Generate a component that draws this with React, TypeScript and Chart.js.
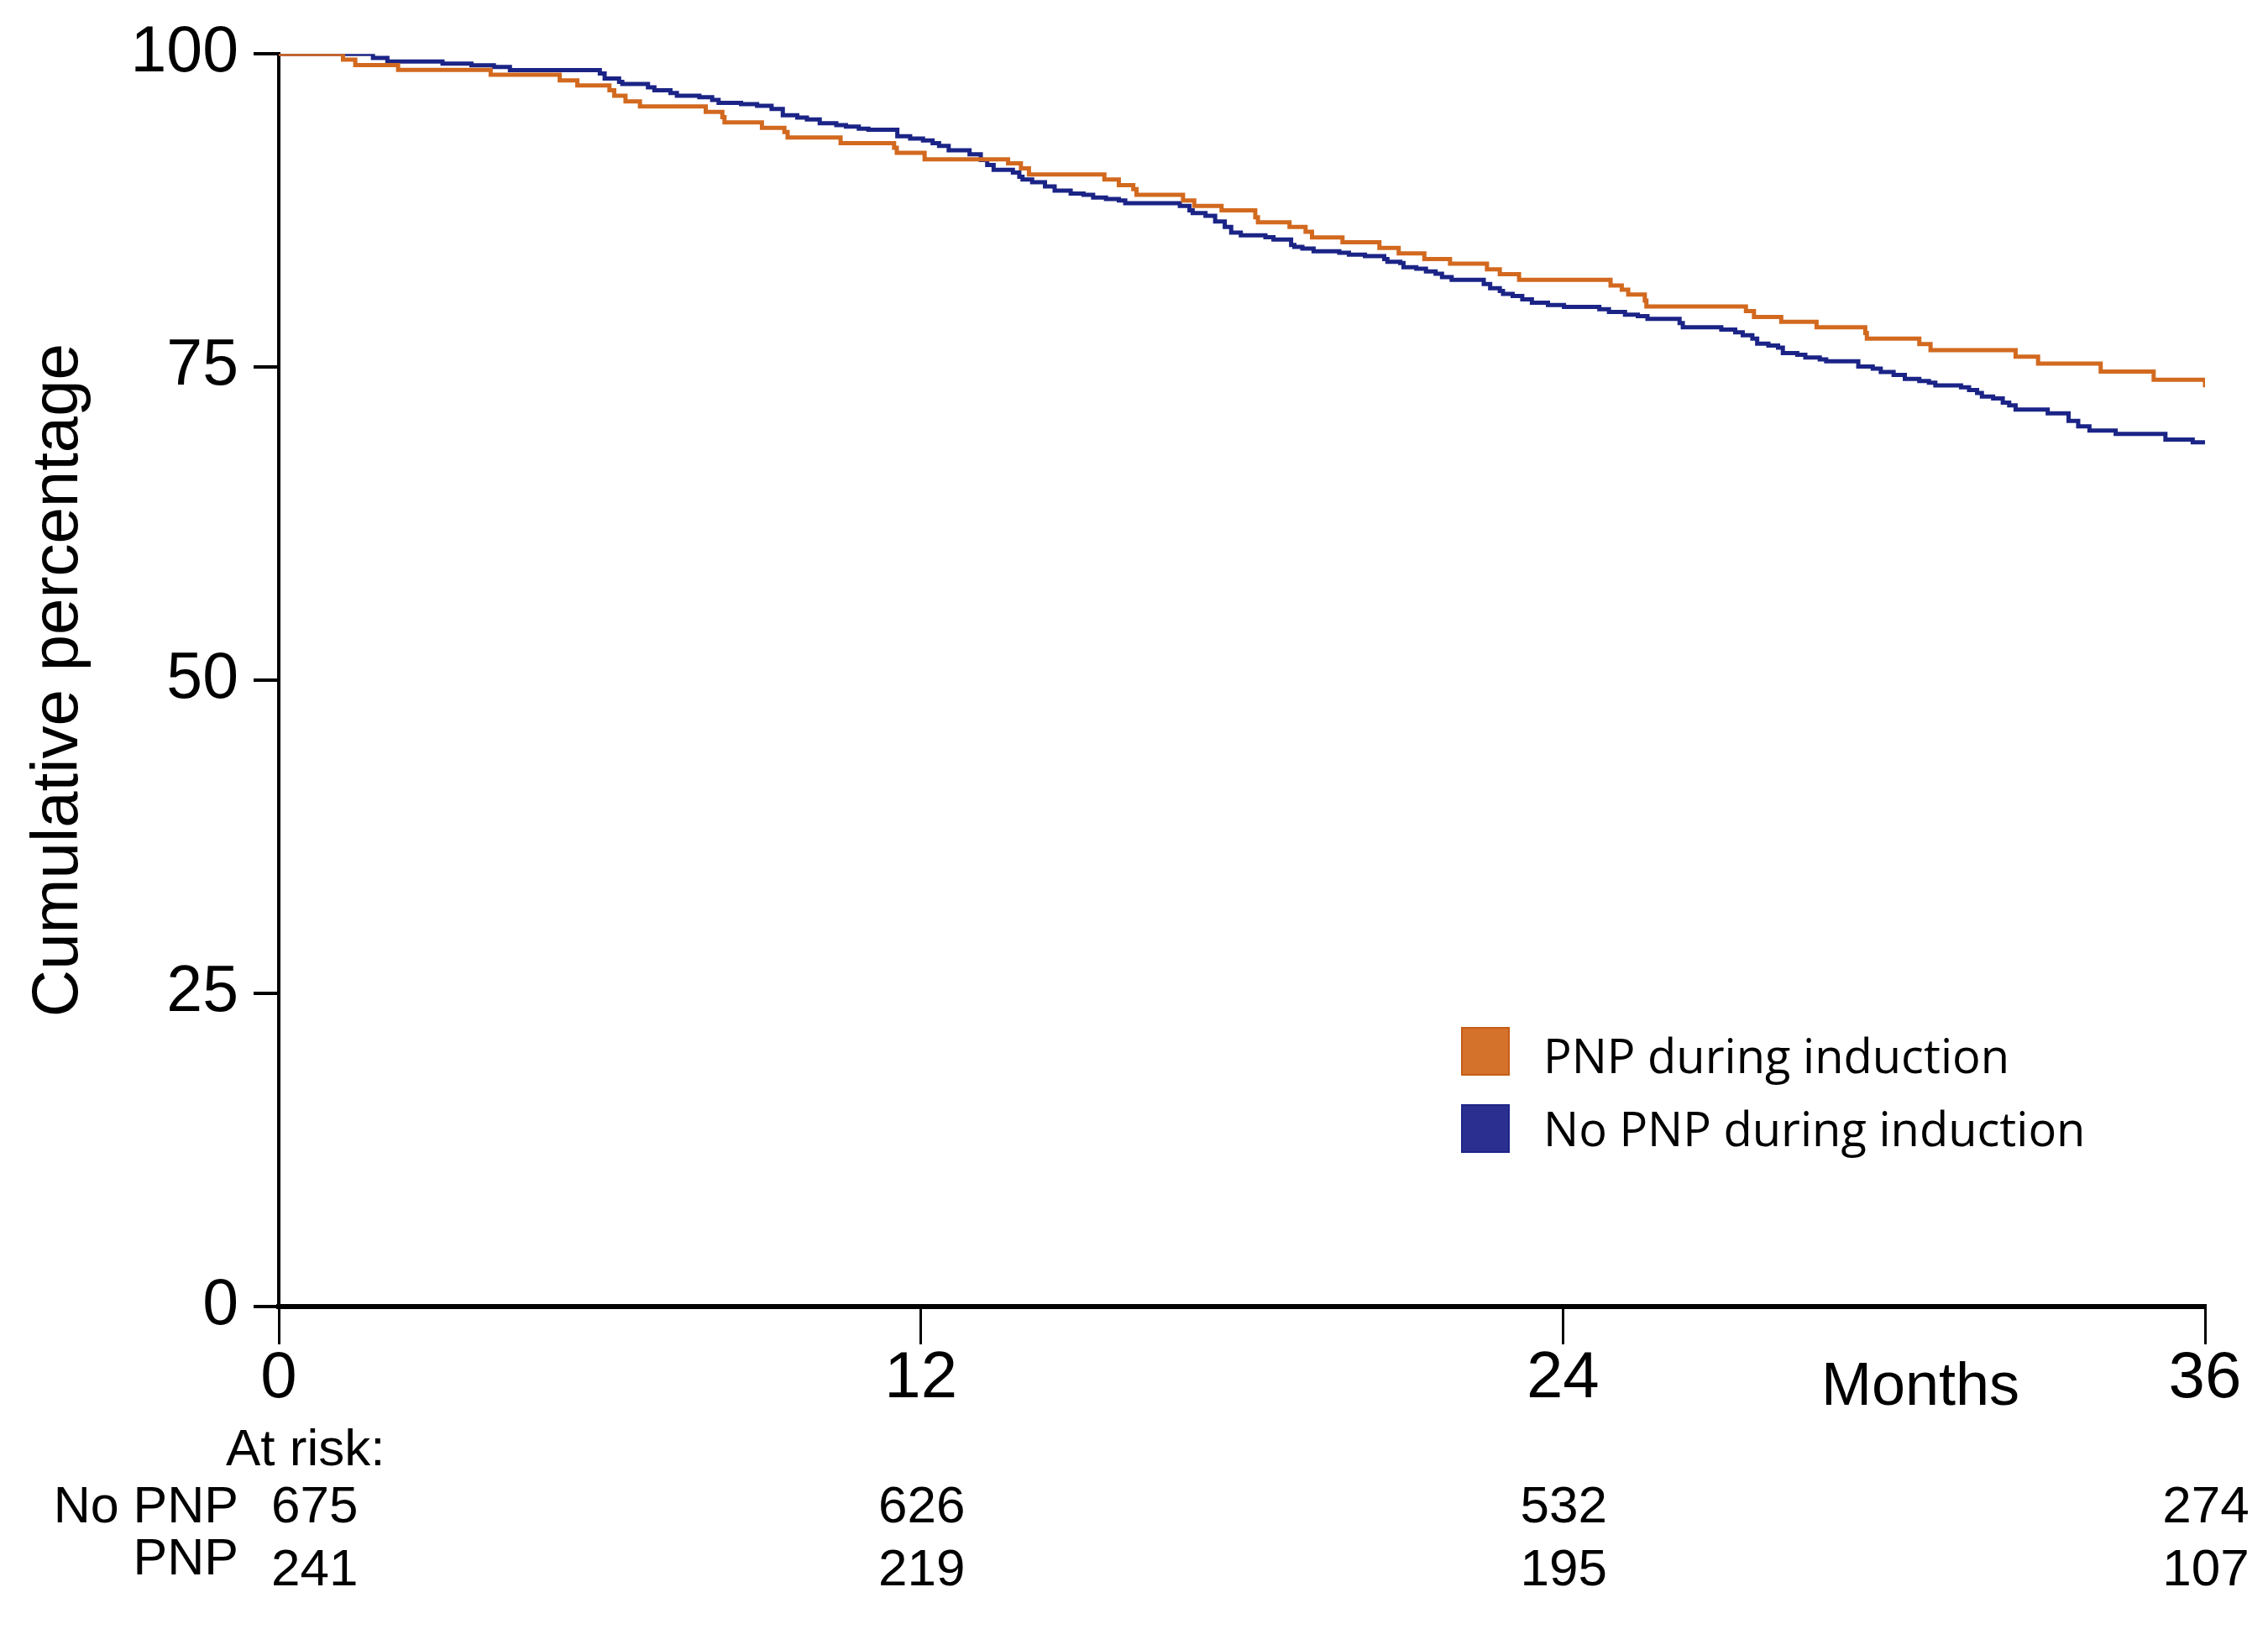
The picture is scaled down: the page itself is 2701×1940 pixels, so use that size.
import React, { useEffect, useRef } from "react";
import { Chart, registerables } from "chart.js";

Chart.register(...registerables);

// ---- Data ----
const monthsPNP = [
  0, 1.2, 1.43, 2.23, 3.96, 5.25, 5.58, 6.18, 6.27, 6.48, 6.75, 7.98, 8.29, 8.33,
  9.03, 9.45, 9.51, 10.5, 11.5, 11.55, 12.07, 13.63, 13.87, 14.02, 15.43, 15.7,
  15.97, 16.03, 16.9, 17.11, 17.62, 18.25, 18.3, 18.89, 19.19, 19.31, 19.88,
  20.57, 20.93, 21.41, 21.89, 22.58, 22.82, 23.18, 24.89, 25.1, 25.22, 25.53,
  25.56, 27.42, 27.57, 28.08, 28.74, 29.65, 29.68, 30.66, 30.87, 32.46, 32.88,
  34.05, 35.04, 36,
];
const survivalPNP = [
  100, 99.55, 99.11, 98.73, 98.33, 97.88, 97.48, 97.1, 96.66, 96.21, 95.81, 95.37,
  94.95, 94.54, 94.1, 93.77, 93.33, 92.87, 92.5, 92.1, 91.59, 91.27, 90.87, 90.38,
  89.97, 89.53, 89.2, 88.75, 88.3, 87.86, 87.52, 86.96, 86.56, 86.19, 85.8, 85.35,
  84.96, 84.52, 84.07, 83.63, 83.25, 82.81, 82.41, 81.96, 81.52, 81.18, 80.8,
  80.3, 79.84, 79.46, 79.0, 78.61, 78.17, 77.72, 77.27, 76.83, 76.35, 75.83,
  75.27, 74.64, 73.98, 73.39,
];

const monthsNoPNP = [
  0, 1.76, 2.03, 3.06, 3.6, 4.02, 4.32, 6.0, 6.09, 6.36, 6.42, 6.9, 7.02, 7.32,
  7.44, 7.86, 8.1, 8.22, 8.64, 8.94, 9.21, 9.42, 9.69, 9.87, 10.11, 10.42, 10.6,
  10.84, 11.02, 11.56, 11.8, 12.04, 12.22, 12.34, 12.52, 12.91, 13.12, 13.24,
  13.36, 13.72, 13.84, 13.9, 14.08, 14.32, 14.5, 14.8, 15.04, 15.22, 15.46, 15.7,
  15.82, 16.84, 17.02, 17.08, 17.32, 17.5, 17.68, 17.8, 17.98, 18.44, 18.59,
  18.92, 18.98, 19.13, 19.34, 19.82, 20.0, 20.3, 20.66, 20.72, 20.96, 21.02,
  21.26, 21.44, 21.62, 21.74, 21.92, 22.52, 22.64, 22.82, 22.88, 23.06, 23.24,
  23.42, 23.72, 24.02, 24.68, 24.86, 25.16, 25.4, 25.58, 26.18, 26.24, 26.96,
  27.22, 27.36, 27.54, 27.63, 27.84, 28.02, 28.11, 28.38, 28.53, 28.8, 28.92,
  29.52, 29.79, 29.94, 30.18, 30.39, 30.66, 30.84, 30.96, 31.44, 31.59, 31.74,
  31.83, 32.04, 32.22, 32.34, 32.46, 33.06, 33.45, 33.63, 33.84, 34.33, 35.26,
  35.77, 36,
];
const survivalNoPNP = [
  100, 99.67, 99.4, 99.22, 99.1, 98.95, 98.7, 98.44, 98.04, 97.77, 97.6, 97.33,
  97.1, 96.88, 96.66, 96.55, 96.32, 96.1, 95.99, 95.85, 95.6, 95.1, 94.92, 94.76,
  94.47, 94.32, 94.2, 94.03, 93.94, 93.43, 93.25, 93.09, 92.87, 92.65, 92.31,
  91.98, 91.53, 91.13, 90.75, 90.53, 90.2, 89.97, 89.75, 89.42, 89.08, 88.86,
  88.75, 88.53, 88.41, 88.3, 88.08, 87.86, 87.52, 87.3, 87.08, 86.63, 86.19,
  85.74, 85.52, 85.36, 85.19, 84.74, 84.59, 84.46, 84.24, 84.12, 83.97, 83.86,
  83.63, 83.41, 83.3, 82.97, 82.85, 82.63, 82.45, 82.18, 81.96, 81.63, 81.29,
  81.07, 80.85, 80.67, 80.4, 80.13, 79.96, 79.8, 79.62, 79.4, 79.18, 79.06, 78.84,
  78.51, 78.17, 78.0, 77.78, 77.54, 77.27, 76.87, 76.72, 76.56, 76.11, 75.99,
  75.77, 75.61, 75.46, 75.05, 74.87, 74.6, 74.38, 74.05, 73.89, 73.76, 73.54,
  73.39, 73.16, 72.94, 72.65, 72.5, 72.16, 71.94, 71.6, 71.31, 70.71, 70.26,
  69.93, 69.66, 69.21, 68.99, 68.99,
];

const seriesLabels = ["PNP during induction", "No PNP during induction"];
const xTicks = [0, 12, 24, 36];
const yTicks = [0, 25, 50, 75, 100];

const riskTimes = [0, 12, 24, 36];
const riskNoPNP = [675, 626, 532, 274];
const riskPNP = [241, 219, 195, 107];
const riskRowLabels = ["No PNP", "PNP"];

// ---- Styles ----
const ORANGE_LINE = "#D2691F";
const BLUE_LINE = "#1B2486";
const ORANGE_BOX = "#D4722C";
const ORANGE_BOX_EDGE = "#C65C16";
const BLUE_BOX = "#2B3090";
const BLUE_BOX_EDGE = "#1E2689";
const SANS = "'Liberation Sans', Arial, Helvetica, sans-serif";
const LEGEND_FONT = "'Open Sans', 'Noto Sans', sans-serif";

const extrasPlugin = {
  id: "kmExtras",
  afterDraw(chart: any) {
    const ctx = chart.ctx as CanvasRenderingContext2D;
    const x = chart.scales.x;
    const area = chart.chartArea;
    ctx.save();
    ctx.fillStyle = "#000";
    ctx.textBaseline = "alphabetic";

    // Months label
    ctx.font = `72px ${SANS}`;
    ctx.textAlign = "center";
    ctx.fillText("Months", 2287, area.bottom + 117);

    // At risk table
    ctx.font = `62px ${SANS}`;
    ctx.textAlign = "left";
    ctx.fillText("At risk:", 269, area.bottom + 189);
    ctx.font = `61px ${SANS}`;
    ctx.textAlign = "right";
    ctx.fillText(riskRowLabels[0], 284, area.bottom + 257);
    ctx.fillText(riskRowLabels[1], 284, area.bottom + 319);
    ctx.font = `62px ${SANS}`;
    riskTimes.forEach((t, i) => {
      const px = x.getPixelForValue(t);
      if (i === 0) {
        ctx.textAlign = "left";
        ctx.fillText(String(riskNoPNP[i]), px - 9, area.bottom + 257);
        ctx.fillText(String(riskPNP[i]), px - 9, area.bottom + 332);
      } else {
        ctx.textAlign = "center";
        ctx.fillText(String(riskNoPNP[i]), px + 1, area.bottom + 257);
        ctx.fillText(String(riskPNP[i]), px + 1, area.bottom + 332);
      }
    });

    // Legend
    const ds = chart.data.datasets;
    const boxes = [
      { fill: ORANGE_BOX, edge: ORANGE_BOX_EDGE, top: 1223, base: 1278 },
      { fill: BLUE_BOX, edge: BLUE_BOX_EDGE, top: 1315, base: 1365 },
    ];
    ctx.font = `56px ${LEGEND_FONT}`;
    ctx.textAlign = "left";
    boxes.forEach((b, i) => {
      ctx.fillStyle = b.fill;
      ctx.fillRect(1740, b.top, 58, 58);
      ctx.strokeStyle = b.edge;
      ctx.lineWidth = 2;
      ctx.strokeRect(1741, b.top + 1, 56, 56);
      ctx.fillStyle = "#000";
      ctx.fillText(ds[i].label, 1838, b.base);
    });
    ctx.restore();
  },
};

export default function App() {
  const canvasRef = useRef<HTMLCanvasElement | null>(null);

  useEffect(() => {
    const canvas = canvasRef.current;
    if (!canvas) return;
    const chart = new Chart(canvas, {
      type: "line",
      data: {
        datasets: [
          {
            label: seriesLabels[0],
            data: monthsPNP.map((m, i) => ({ x: m, y: survivalPNP[i] })),
            borderColor: ORANGE_LINE,
            backgroundColor: ORANGE_LINE,
            borderWidth: 5,
            stepped: true,
            pointRadius: 0,
            fill: false,
          },
          {
            label: seriesLabels[1],
            data: monthsNoPNP.map((m, i) => ({ x: m, y: survivalNoPNP[i] })),
            borderColor: BLUE_LINE,
            backgroundColor: BLUE_LINE,
            borderWidth: 5,
            stepped: true,
            pointRadius: 0,
            fill: false,
          },
        ],
      },
      options: {
        animation: false,
        responsive: false,
        devicePixelRatio: 1,
        layout: { padding: { left: 0, top: 60, right: 75, bottom: 0 } },
        plugins: {
          legend: { display: false },
          tooltip: { enabled: false },
        },
        scales: {
          x: {
            type: "linear",
            min: 0,
            max: 36,
            afterBuildTicks: (s: any) => {
              s.ticks = xTicks.map((v) => ({ value: v }));
            },
            afterFit: (s: any) => {
              s.height = 384;
            },
            ticks: {
              color: "#000",
              font: { family: SANS, size: 78 },
              padding: -5,
              maxRotation: 0,
              autoSkip: false,
            },
            grid: {
              drawOnChartArea: false,
              drawTicks: true,
              tickLength: 45,
              color: "#000",
              lineWidth: 3,
            },
            border: { display: true, color: "#000", width: 6 },
          },
          y: {
            type: "linear",
            min: 0,
            max: 100,
            afterBuildTicks: (s: any) => {
              s.ticks = yTicks.map((v) => ({ value: v }));
            },
            afterFit: (s: any) => {
              s.width = 332;
            },
            ticks: {
              color: "#000",
              font: { family: SANS, size: 77 },
              padding: 18,
              autoSkip: false,
            },
            grid: {
              drawOnChartArea: false,
              drawTicks: true,
              tickLength: 30,
              color: "#000",
              lineWidth: 4,
            },
            border: { display: true, color: "#000", width: 4 },
            title: {
              display: true,
              text: "Cumulative percentage",
              color: "#000",
              font: { family: SANS, size: 78 },
              padding: { top: 24, bottom: 0 },
            },
          },
        },
      },
      plugins: [extrasPlugin],
    });
    return () => chart.destroy();
  }, []);

  return (
    <div
      style={{
        position: "fixed",
        left: 0,
        top: 0,
        width: 2701,
        height: 1940,
        background: "#fff",
      }}
    >
      <canvas
        ref={canvasRef}
        width={2701}
        height={1940}
        style={{ width: 2701, height: 1940, display: "block" }}
      />
    </div>
  );
}
